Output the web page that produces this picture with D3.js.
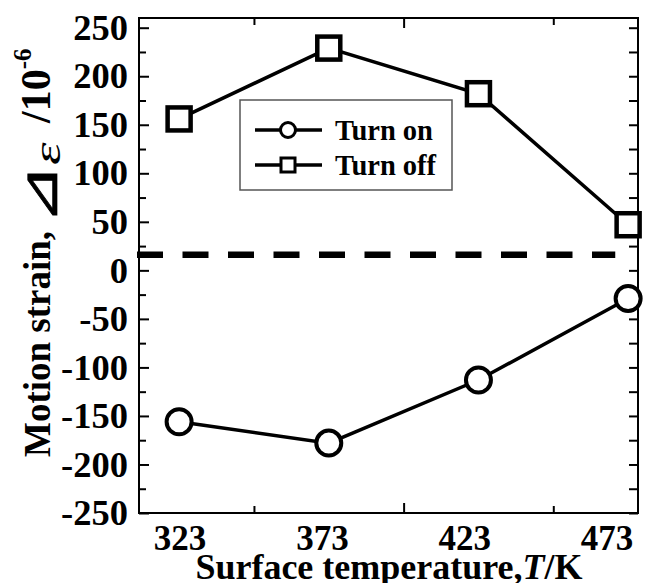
<!DOCTYPE html>
<html>
<head>
<meta charset="utf-8">
<script src="https://cdn.jsdelivr.net/npm/d3@7"></script>
<style>
  html, body { margin: 0; padding: 0; background: #fff; }
  svg { display: block; }
  text { font-family: "Liberation Serif", "Times New Roman", serif; }
</style>
</head>
<body>
<div id="chart"></div>
<script>
// Data
const temps = [323, 373, 423, 473];
const turnOn = [-156, -178, -113, -29];
const turnOff = [156, 229, 182, 47];
const zeroLevel = 16;

const yMajor = [-250, -200, -150, -100, -50, 0, 50, 100, 150, 200, 250];
const yMinor = [-225, -175, -125, -75, -25, 25, 75, 125, 175, 225];
const xMinorTicks = [348, 448];
const xMajorTicks = [398];

const W = 664, H = 583;
const margin = { left: 139, top: 18, right: 26, bottom: 70 };

const svg = d3.select('#chart').append('svg')
  .attr('width', W)
  .attr('height', H);

const x = d3.scaleLinear()
  .domain([309.6, 476.3])
  .range([margin.left, W - margin.right]);

const y = d3.scaleLinear()
  .domain([-250, 260])
  .range([H - margin.bottom, margin.top]);

// tick labels drift left of the data columns in the original
const xLabel = d3.scaleLinear()
  .domain([323, 473])
  .range([x(323) + 1, x(473) - 21]);

const plotW = x.range()[1] - x.range()[0];
const plotH = y.range()[0] - y.range()[1];

// Frame
svg.append('rect')
  .attr('x', margin.left)
  .attr('y', margin.top)
  .attr('width', plotW)
  .attr('height', plotH)
  .attr('fill', 'none')
  .attr('stroke', '#000')
  .attr('stroke-width', 2);

// Left axis: major ticks with labels
const leftAxis = svg.append('g')
  .attr('transform', `translate(${margin.left},0)`)
  .call(d3.axisLeft(y).tickValues(yMajor).tickSize(-10).tickPadding(11).tickFormat(d3.format('d')));
leftAxis.select('.domain').remove();
leftAxis.selectAll('line').attr('stroke-width', 2);
leftAxis.selectAll('text')
  .attr('font-size', 36.5)
  .attr('font-weight', 'bold')
  .attr('fill', '#000')
  .text(d => String(d).replace('\u2212', '-'));

// Left axis: minor ticks
const leftMinor = svg.append('g')
  .attr('transform', `translate(${margin.left},0)`)
  .call(d3.axisLeft(y).tickValues(yMinor).tickSize(-7).tickFormat(''));
leftMinor.select('.domain').remove();
leftMinor.selectAll('line').attr('stroke-width', 2);

// Right axis: mirrored ticks
const rightAxis = svg.append('g')
  .attr('transform', `translate(${x.range()[1]},0)`)
  .call(d3.axisRight(y).tickValues(yMajor.concat(yMinor)).tickSize(-9).tickFormat(''));
rightAxis.select('.domain').remove();
rightAxis.selectAll('line').attr('stroke-width', 2);

// Bottom / top ticks
function xTicks(values, len) {
  const bottom = svg.append('g')
    .attr('transform', `translate(0,${y.range()[0]})`)
    .call(d3.axisBottom(x).tickValues(values).tickSize(-len).tickFormat(''));
  bottom.select('.domain').remove();
  bottom.selectAll('line').attr('stroke-width', 2);

  const top = svg.append('g')
    .attr('transform', `translate(0,${y.range()[1]})`)
    .call(d3.axisTop(x).tickValues(values).tickSize(-len).tickFormat(''));
  top.select('.domain').remove();
  top.selectAll('line').attr('stroke-width', 2);
}
xTicks(xMinorTicks, 7);
xTicks(xMajorTicks, 10);

// Bottom tick labels
svg.append('g')
  .selectAll('text')
  .data(temps)
  .join('text')
  .attr('x', d => xLabel(d))
  .attr('y', y.range()[0] + 37)
  .attr('text-anchor', 'middle')
  .attr('font-size', 35)
  .attr('font-weight', 'bold')
  .text(d => d);

// Dashed zero reference
svg.append('line')
  .attr('x1', x(309.6) - 2)
  .attr('x2', x(468.7))
  .attr('y1', y(zeroLevel))
  .attr('y2', y(zeroLevel))
  .attr('stroke', '#000')
  .attr('stroke-width', 6.5)
  .attr('stroke-dasharray', '26,19.5');

const line = d3.line()
  .x(d => x(d[0]))
  .y(d => y(d[1]));

const onPts = temps.map((t, i) => [t, turnOn[i]]);
const offPts = temps.map((t, i) => [t, turnOff[i]]);

// Series lines
[onPts, offPts].forEach(pts => {
  svg.append('path')
    .datum(pts)
    .attr('d', line)
    .attr('fill', 'none')
    .attr('stroke', '#000')
    .attr('stroke-width', 3.5);
});

// Markers
svg.append('g')
  .selectAll('circle')
  .data(onPts)
  .join('circle')
  .attr('cx', d => x(d[0]))
  .attr('cy', d => y(d[1]))
  .attr('r', 12.5)
  .attr('fill', '#fff')
  .attr('stroke', '#000')
  .attr('stroke-width', 4);

const sq = 23;
svg.append('g')
  .selectAll('rect')
  .data(offPts)
  .join('rect')
  .attr('x', d => x(d[0]) - sq / 2)
  .attr('y', d => y(d[1]) - sq / 2)
  .attr('width', sq)
  .attr('height', sq)
  .attr('fill', '#fff')
  .attr('stroke', '#000')
  .attr('stroke-width', 4.5);

// Legend
const legend = svg.append('g').attr('transform', 'translate(240,100)');
legend.append('rect')
  .attr('width', 212)
  .attr('height', 90)
  .attr('fill', '#fff')
  .attr('stroke', '#555')
  .attr('stroke-width', 1.5);

const legendItems = [
  { label: 'Turn on', shape: 'circle' },
  { label: 'Turn off', shape: 'square' }
];

legendItems.forEach((item, i) => {
  const row = legend.append('g').attr('transform', `translate(0,${30 + i * 35})`);
  row.append('line')
    .attr('x1', 15).attr('x2', 82)
    .attr('stroke', '#000')
    .attr('stroke-width', 3.5);
  if (item.shape === 'circle') {
    row.append('circle')
      .attr('cx', 48).attr('r', 7.5)
      .attr('fill', '#fff').attr('stroke', '#000').attr('stroke-width', 3);
  } else {
    row.append('rect')
      .attr('x', 41).attr('y', -7).attr('width', 14).attr('height', 14)
      .attr('fill', '#fff').attr('stroke', '#000').attr('stroke-width', 3);
  }
  row.append('text')
    .attr('x', 95)
    .attr('y', 10)
    .attr('font-size', 28.5)
    .attr('font-weight', 'bold')
    .text(item.label);
});

// X axis title
const xTitle = svg.append('text')
  .attr('x', 389)
  .attr('y', 579)
  .attr('text-anchor', 'middle')
  .attr('font-size', 36)
  .attr('font-weight', 'bold');
xTitle.append('tspan').text('Surface temperature,');
xTitle.append('tspan').attr('font-style', 'italic').text('T');
xTitle.append('tspan').text('/K');

// Y axis title, pieces laid along the rotated baseline
const yTitle = svg.append('g')
  .attr('transform', 'translate(50,457) rotate(-90)');

yTitle.append('text')
  .attr('font-size', 37)
  .attr('font-weight', 'bold')
  .text('Motion strain,');

yTitle.append('text')
  .attr('transform', 'translate(232,6.5) scale(1.4,1)')
  .attr('font-family', '"DejaVu Sans", sans-serif')
  .attr('font-size', 52)
  .attr('stroke', '#000')
  .attr('stroke-width', 0.7)
  .text('\u22BF');

yTitle.append('text')
  .attr('transform', 'translate(292,10) scale(1.5,1)')
  .attr('font-family', '"DejaVu Serif", serif')
  .attr('font-style', 'italic')
  .attr('font-size', 38)
  .text('\u03B5');

const tenPow = yTitle.append('text')
  .attr('x', 334)
  .attr('font-size', 42)
  .attr('font-weight', 'bold');
tenPow.append('tspan').text('/10');
tenPow.append('tspan')
  .attr('font-size', 25)
  .attr('dy', -19)
  .text('-6');
</script>
</body>
</html>
